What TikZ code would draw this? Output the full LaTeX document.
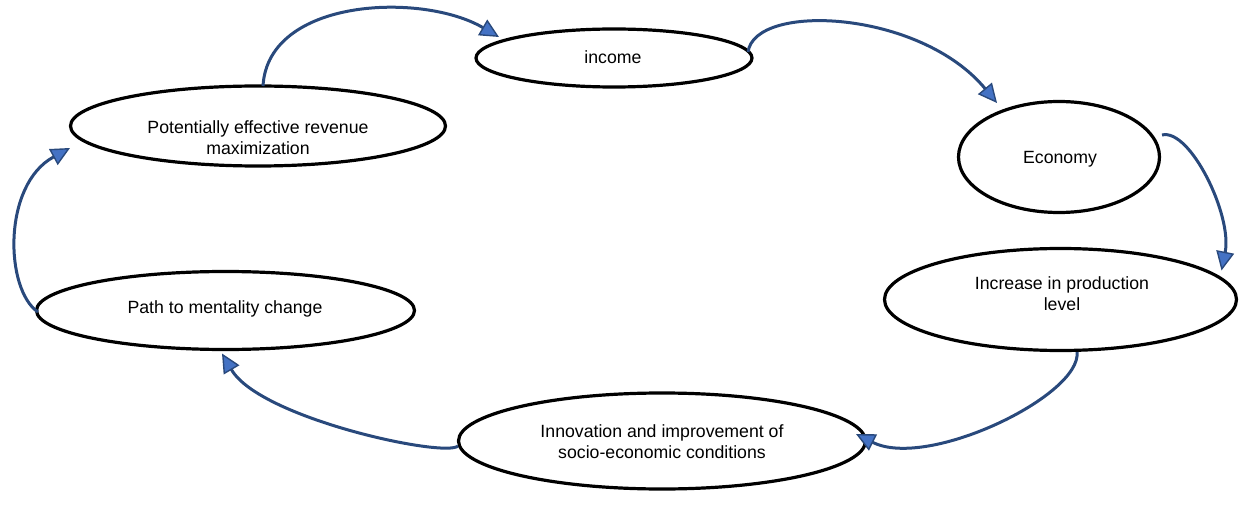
\documentclass[tikz,border=0pt]{standalone}
\usepackage{fontspec}
\setmainfont{Liberation Sans}
\usetikzlibrary{shapes.geometric,arrows.meta,calc}

\definecolor{arrowline}{HTML}{29497C}
\definecolor{arrowfill}{HTML}{4472C4}

\begin{document}
\begin{tikzpicture}[x=1pt,y=-1pt,
  bubble/.style={ellipse,draw=black,line width=3.2pt,inner sep=0pt,fill=white},
  caption/.style={align=center,inner sep=0pt,font=\fontsize{17.7}{21}\selectfont},
  flow/.style={draw=arrowline,line width=3pt,
    -{Triangle[length=19pt,width=18pt,fill=arrowfill,line width=1.4pt]}}]
  \useasboundingbox (0,0) rectangle (1239,505);

  % ellipses
  \node[bubble,minimum width=276pt,minimum height=58pt] (inc)  at (614,58) {};
  \node[bubble,minimum width=375pt,minimum height=80pt] (pot)  at (258,126) {};
  \node[bubble,minimum width=201pt,minimum height=111pt] (eco) at (1059,157) {};
  \node[bubble,minimum width=352pt,minimum height=102pt] (prod) at (1060.5,299.5) {};
  \node[bubble,minimum width=407pt,minimum height=96pt] (inno) at (662,441) {};
  \node[bubble,minimum width=378pt,minimum height=78pt] (path) at (225.5,310.5) {};

  % labels
  \node[caption] (tinc)  at (613,57) {income};
  \node[caption] (tpot)  at (258,138) {Potentially effective revenue\\maximization};
  \node[caption] (teco)  at (1060,159) {Economy};
  \node[caption] (tprod) at (1062,294) {Increase in production\\level};
  \node[caption] (tinno) at (662,442) {Innovation and improvement of\\socio-economic conditions};
  \node[caption] (tpath) at (225,309) {Path to mentality change};

  % cycle of curved arrows
  \draw[flow] ($(pot.center)+(5,-40)$) .. controls +(5,-88) and +(-77,-45) .. ($(inc.center)+(-115,-21)$);
  \draw[flow] ($(inc.center)+(134,-6)$) .. controls +(7,-50) and +(-77,-93) .. ($(eco.center)+(-62,-54)$);
  \draw[flow] ($(eco.center)+(103,-22)$) .. controls +(28,-7) and +(11,-55) .. ($(prod.center)+(161,-29)$);
  \draw[flow] ($(prod.center)+(16.5,52.5)$) .. controls +(5,43) and +(72,36) .. ($(inno.center)+(194,-7)$);
  \draw[flow] ($(inno.center)+(-204,5)$) .. controls +(-13,12) and +(38,65) .. ($(path.center)+(-3.5,43)$);
  \draw[flow] ($(path.center)+(-187.5,1.5)$) .. controls +(-33,-22) and +(-68,37) .. ($(pot.center)+(-188,22)$);
\end{tikzpicture}
\end{document}
